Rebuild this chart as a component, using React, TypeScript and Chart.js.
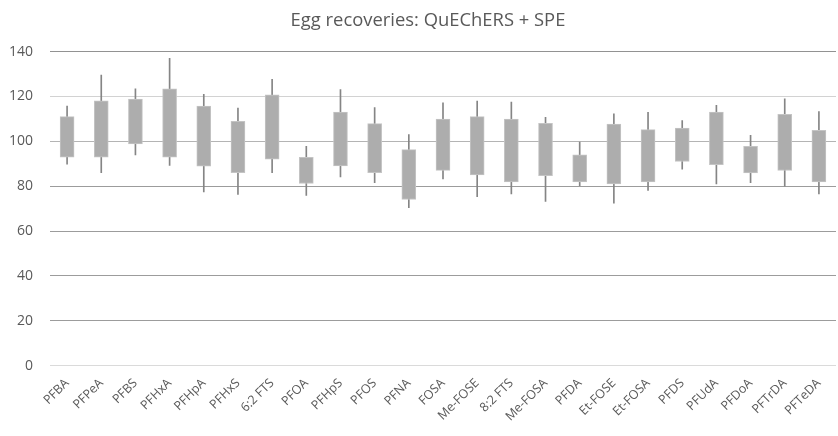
import React, { useEffect, useRef } from "react";
import { Chart, registerables } from "chart.js";
Chart.register(...registerables);

const title = "Egg recoveries: QuEChERS + SPE";
const categories = [
  "PFBA", "PFPeA", "PFBS", "PFHxA", "PFHpA", "PFHxS", "6:2 FTS", "PFOA",
  "PFHpS", "PFOS", "PFNA", "FOSA", "Me-FOSE", "8:2 FTS", "Me-FOSA", "PFDA",
  "Et-FOSE", "Et-FOSA", "PFDS", "PFUdA", "PFDoA", "PFTrDA", "PFTeDA",
];
const boxLow = [93, 93, 98.8, 93, 88.9, 86, 92.1, 81.2, 89, 86, 74.1, 87.1, 85, 81.9, 84.7, 81.9, 81, 81.9, 91, 89.6, 85.9, 87, 81.9];
const boxHigh = [111, 118, 118.8, 123.4, 115.7, 108.9, 120.7, 92.9, 113, 107.9, 96.3, 109.9, 111, 109.9, 108, 94, 107.7, 105.2, 105.9, 113, 97.8, 112, 104.9];
const whiskerLow = [89.8, 86, 93.9, 89.3, 77.5, 76.4, 86, 75.9, 84.1, 81.6, 70.4, 83.3, 75.4, 76.6, 73.2, 80.3, 72.4, 78.1, 87.6, 81, 81.6, 80, 76.6];
const whiskerHigh = [115.7, 129.5, 123.4, 137, 120.9, 114.8, 127.6, 97.8, 123.1, 115.1, 103, 117.2, 117.9, 117.5, 110.7, 99.7, 112.3, 112.9, 109.3, 116, 102.7, 119, 113.3];
const yMin = 0;
const yMax = 140;
const yStep = 20;

const gridColors: Record<number, string> = {
  0: "#dadada", 20: "#9c9c9c", 40: "#9c9c9c", 60: "#9c9c9c",
  80: "#9c9c9c", 100: "#b4b4b4", 120: "#d2d2d2", 140: "#929292",
};

// widen the y-axis label clip box to the canvas edge (labels keep their position)
const unclipYLabels = {
  id: "unclipYLabels",
  afterLayout(chart: any) {
    const y = chart.scales.y;
    if (y) y.left = 0;
  },
};

export default function App() {
  const ref = useRef<HTMLCanvasElement | null>(null);
  useEffect(() => {
    document.body.style.margin = "0";
    const ctx = ref.current!;
    const font = "'Open Sans', 'DejaVu Sans', sans-serif";
    const chart = new Chart(ctx, {
      type: "bar",
      data: {
        labels: categories,
        datasets: [
          {
            label: "Box",
            data: categories.map((_, i) => [boxLow[i], boxHigh[i]]),
            backgroundColor: "#adadad",
            borderColor: "#c4c4c4",
            borderWidth: 1,
            borderSkipped: false,
            barThickness: 14,
            grouped: false,
            order: 1,
          },
          {
            label: "Whisker",
            data: categories.map((_, i) => [whiskerLow[i], whiskerHigh[i]]),
            backgroundColor: "#858585",
            borderWidth: 0,
            barThickness: 1,
            grouped: false,
            order: 2,
          },
        ],
      },
      plugins: [unclipYLabels],
      options: {
        responsive: false,
        animation: false,
        maintainAspectRatio: false,
        layout: { padding: { left: 20, right: 2, top: 8, bottom: 10 } },
        plugins: {
          legend: { display: false },
          tooltip: { enabled: false },
          title: {
            display: true,
            text: title,
            color: "#595959",
            font: { family: font, size: 18.4, weight: "normal" },
            padding: { top: 2, bottom: 19.5 },
          },
        },
        scales: {
          x: {
            grid: { display: false },
            border: { display: false },
            afterFit: (s: any) => {
              s.paddingLeft = 0;
              s.paddingRight = 0;
            },
            ticks: {
              color: "#595959",
              font: { family: font, size: 12.5 },
              maxRotation: 46,
              minRotation: 45,
              padding: 2,
              autoSkip: false,
            },
          },
          y: {
            min: yMin,
            max: yMax,
            border: { display: false },
            afterFit: (s: any) => {
              s.width = 30;
            },
            grid: {
              drawTicks: false,
              color: (c: any) => gridColors[c.tick?.value] ?? "#b0b0b0",
              lineWidth: 1,
            },
            ticks: {
              stepSize: yStep,
              color: "#595959",
              font: { family: font, size: 14 },
              padding: 17,
            },
          },
        },
      },
    });
    return () => chart.destroy();
  }, []);
  return (
    <div style={{ width: 838, height: 436, background: "#fff" }}>
      <canvas ref={ref} width={838} height={436} />
    </div>
  );
}
